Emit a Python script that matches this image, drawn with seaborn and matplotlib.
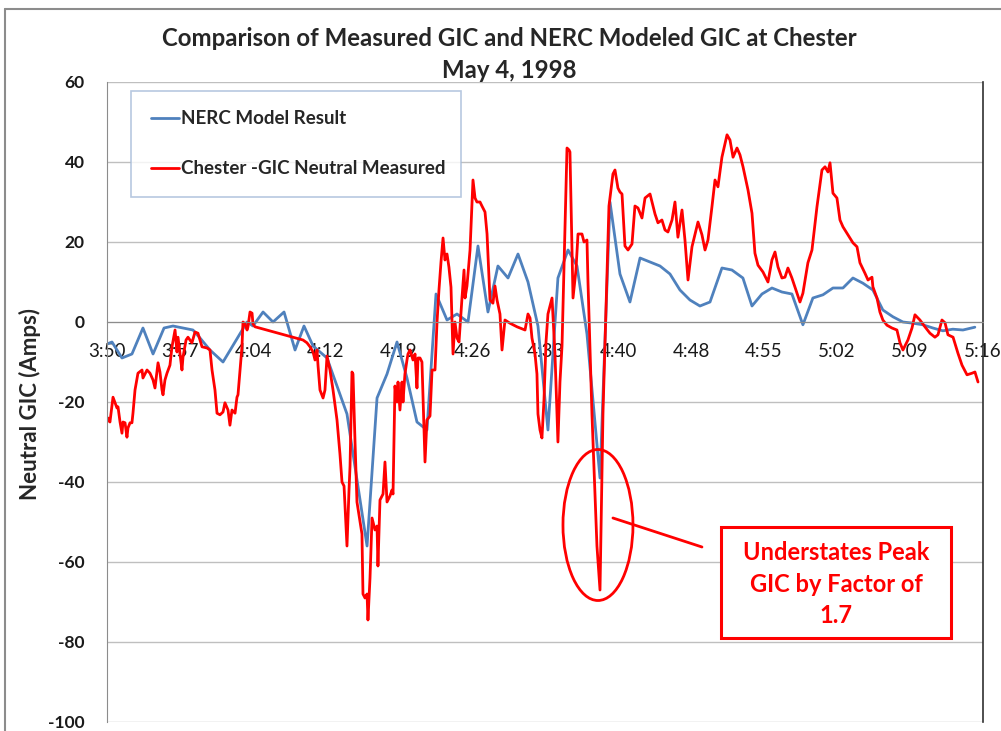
import numpy as np
import pandas as pd
import matplotlib
matplotlib.use("Agg")
import matplotlib.pyplot as plt
import seaborn as sns
from matplotlib.patches import Ellipse, Rectangle
from matplotlib.lines import Line2D

sns.set_style("white")
plt.rcParams["font.family"] = ["Lato", "DejaVu Sans"]

# ---------------- data ----------------
tick_labels = ["3:50", "3:57", "4:04", "4:12", "4:19", "4:26", "4:33",
               "4:40", "4:48", "4:55", "5:02", "5:09", "5:16"]
axis_span_min = 86  # minutes from 3:50 to 5:16

# NERC model result (minutes after 3:50, amps)
nerc_min = [0.00, 0.49, 1.47, 2.45, 3.53, 4.52, 5.60, 6.48, 7.46, 8.44, 9.13, 10.11,
            11.39, 12.57, 13.75, 14.33, 15.32, 16.30, 17.38, 18.46, 19.34, 20.23,
            21.60, 23.56, 25.53, 26.51, 27.49, 28.47, 29.45, 30.43, 31.41, 32.30,
            33.38, 34.36, 35.44, 36.42, 37.40, 38.38, 39.37, 40.35, 41.33, 42.31,
            43.29, 44.27, 45.26, 46.14, 47.12, 48.40, 49.38, 50.36, 51.34, 52.33,
            53.31, 54.29, 55.27, 56.25, 57.23, 58.21, 59.20, 60.37, 61.35, 62.43,
            63.32, 64.30, 65.28, 66.26, 67.24, 68.32, 69.30, 70.29, 71.27, 72.25,
            73.23, 74.21, 75.19, 76.17, 77.16, 78.14, 79.12, 80.10, 81.08, 82.06,
            83.04, 84.03, 85.20]
nerc_amps = [-5.5, -5, -9, -8, -1.5, -8, -1.5, -1, -1.5, -2, -4, -7,
             -10, -5, 0, -1, 2.5, 0, 2.5, -7, -1, -6,
             -9, -23, -56, -19, -13, -5, -14, -25, -27, 7,
             0.5, 2, 0, 19, 2.5, 14, 11, 17, 10, -1,
             -27, 11, 18, 14, -3, -39, 30, 12, 5, 16,
             15, 14, 12, 8, 5.5, 4, 5, 13.5, 13, 11,
             4, 7, 8.5, 7.5, 7, -0.7, 6, 6.8, 8.5, 8.5,
             11, 9.7, 8, 3, 1.3, 0, -0.3, -0.7, -1.5, -2.2,
             -1.8, -2, -1.3]

# Chester measured neutral GIC (minutes after 3:50, amps)
meas_min = [0.00, 0.10, 0.29, 0.59, 0.79, 0.98, 1.08, 1.28, 1.47, 1.57, 1.77, 1.96,
            2.06, 2.26, 2.45, 2.55, 2.75, 3.04, 3.44, 3.53, 3.93, 4.22, 4.52, 4.71,
            5.01, 5.20, 5.40, 5.50, 5.69, 5.89, 6.18, 6.38, 6.68, 6.87, 6.97, 7.36,
            7.46, 7.76, 7.95, 8.34, 8.64, 8.93, 9.33, 9.82, 10.11, 10.31, 10.60, 10.80,
            11.09, 11.39, 11.58, 11.88, 12.07, 12.27, 12.57, 12.76, 12.86, 13.06, 13.25,
            13.35, 13.55, 13.75, 13.84, 14.04, 14.24, 14.33, 14.53, 19.24, 19.63, 19.93,
            20.23, 20.42, 20.62, 20.72, 20.91, 21.21, 21.40, 21.60, 21.89, 22.19, 22.58,
            22.87, 23.07, 23.27, 23.56, 23.76, 23.86, 24.05, 24.15, 24.35, 24.54, 24.84,
            25.03, 25.13, 25.33, 25.53, 25.62, 25.82, 26.02, 26.31, 26.51, 26.60, 26.80,
            27.10, 27.29, 27.49, 27.78, 27.98, 28.08, 28.27, 28.47, 28.57, 28.76, 28.96,
            29.06, 29.25, 29.45, 29.55, 29.75, 30.04, 30.24, 30.43, 30.53, 30.73, 30.92,
            31.22, 31.41, 31.71, 31.91, 32.20, 32.40, 32.59, 32.79, 32.99, 33.18, 33.38,
            33.57, 33.77, 33.97, 34.16, 34.36, 34.56, 34.85, 35.05, 35.15, 35.34, 35.64,
            35.93, 36.13, 36.32, 36.62, 36.81, 37.11, 37.31, 37.60, 37.89, 38.09, 38.29,
            38.58, 38.78, 39.07, 39.56, 40.25, 41.04, 41.33, 41.53, 41.72, 42.02, 42.21,
            42.31, 42.51, 42.70, 42.90, 43.10, 43.29, 43.69, 43.98, 44.27, 44.47, 44.67,
            44.96, 45.16, 45.36, 45.45, 45.75, 46.04, 46.24, 46.63, 46.83, 47.12, 47.22,
            47.61, 48.10, 48.40, 48.69, 49.08, 49.28, 49.67, 49.87, 50.16, 50.36, 50.56,
            50.85, 51.15, 51.54, 51.83, 52.13, 52.52, 52.82, 53.31, 53.80, 54.09, 54.48,
            54.78, 55.07, 55.47, 55.76, 56.05, 56.45, 56.74, 57.04, 57.43, 57.72, 58.02,
            58.41, 58.71, 59.00, 59.39, 59.69, 59.98, 60.37, 60.87, 61.16, 61.46, 61.85,
            62.14, 62.44, 62.93, 63.32, 63.61, 63.91, 64.40, 64.89, 65.28, 65.58, 65.87,
            66.26, 66.56, 66.85, 67.24, 67.74, 68.03, 68.32, 68.81, 69.21, 69.70, 70.19,
            70.49, 70.78, 70.98, 71.27, 71.66, 71.96, 72.25, 72.74, 73.23, 73.63, 73.92,
            74.41, 74.71, 75.10, 75.19, 75.59, 75.88, 76.17, 76.57, 77.06, 77.55, 77.85,
            78.14, 78.63, 79.03, 79.32, 79.81, 80.30, 80.79, 81.28, 81.58, 81.97, 82.27,
            82.56, 83.06, 83.54, 83.94, 84.43, 84.92, 85.21, 85.51]
meas_amps = [-25, -24, -25, -18.8, -20.2, -21.5, -21.2, -25, -27.8, -25, -25.2, -28.8,
             -26.5, -25.2, -25.2, -22.8, -17, -12.8, -12, -14, -12, -12.8, -14.5, -16.5,
             -10.2, -12.5, -17, -18.2, -14.5, -12.8, -10.8, -6.2, -2, -7.5, -3.8, -12,
             -8.8, -4.5, -3.8, -5.2, -2.5, -2.8, -6.2, -6.5, -7, -12, -17, -22.8,
             -23.2, -22.5, -20.2, -22, -25.8, -22, -22.8, -18.8, -18.2, -12, -6.2,
             0, -0.5, -2, -1.2, 2.5, 2.2, -0.5, -1.2, -4.5, -5.2, -6.2,
             -7.5, -9.5, -7, -11, -17, -19, -17, -8.5, -12, -17, -24.5,
             -33, -40, -41, -56, -42, -36, -12.5, -13, -30, -45, -50,
             -53, -68, -69, -68, -74.5, -64, -49, -52, -51, -61, -44.5,
             -43, -35, -45, -43.5, -42, -43, -16, -20, -15, -22, -15,
             -20, -13, -9.5, -8, -7, -9.5, -8, -16.5, -9, -9, -10,
             -35, -24.5, -23.5, -12, -12, 0, 8, 15, 21, 15.5, 17,
             13.7, 8.7, -8, 0, -4, -5, 6, 13, 6, 9, 18,
             35.5, 31, 30, 30, 29, 27.5, 22, 5.5, 4.7, 9, 5.5,
             2, -7, 0.5, -0.3, -1.2, -2, 2, 1, -4, -8, -13,
             -23, -27, -29, -19.5, -5, 2, 6, -8, -30, -15, -6,
             23, 43.5, 43, 42.5, 6, 13, 22, 22, 20, 20.5, 10,
             -23, -56, -67, -23, 12, 29, 37, 38, 33.5, 32.5, 32,
             19, 18, 19.5, 29, 28.5, 26, 31, 32, 27, 24.8, 25.5,
             23, 22.5, 25.5, 30, 21.2, 28, 20.5, 10.5, 18.8, 21.8, 25,
             21.8, 18, 20.5, 28.8, 35.5, 33.8, 41.2, 46.8, 45.5, 41.2, 43.5,
             41.8, 38.8, 33, 27.2, 17.2, 14.2, 12.5, 10, 15.5, 17.5, 13.8,
             11, 11.2, 13.5, 11, 7.2, 5, 7.2, 14.8, 18, 28.8, 38,
             38.8, 37.5, 39.8, 32.2, 31, 25.5, 23.8, 21.8, 19.8, 18.8, 14.8,
             12.2, 10.5, 11.2, 8.8, 6, 2.5, 0.5, -0.8, -1.5, -2, -5.2,
             -7, -4.5, -1.5, 1.8, 0.5, -1.2, -2.8, -3.8, -3.2, 0.5, -0.2,
             -3.2, -3.8, -7.8, -10.8, -13.2, -12.8, -12.5, -15]

yticks = [-100, -80, -60, -40, -20, 0, 20, 40, 60]

# ---------------- figure ----------------
W, H = 1001, 731
fig = plt.figure(figsize=(W / 100, H / 100), dpi=100)
ax = fig.add_axes([107 / W, 1 - 722 / H, 876 / W, 640 / H])

nerc_df = pd.DataFrame({"t": nerc_min, "amps": nerc_amps})
meas_df = pd.DataFrame({"t": meas_min, "amps": meas_amps})

blue = "#4F81BD"
red = "#FF0000"
sns.lineplot(data=nerc_df, x="t", y="amps", ax=ax, color=blue, lw=2.0,
             sort=False, label="NERC Model Result")
sns.lineplot(data=meas_df, x="t", y="amps", ax=ax, color=red, lw=2.0,
             sort=False, label="Chester -GIC Neutral Measured")

ax.set_xlim(0, axis_span_min)
ax.set_ylim(-100, 60)
ax.set_yticks(yticks)
ax.set_yticklabels([str(v) for v in yticks])
ax.set_xticks(np.linspace(0, axis_span_min, len(tick_labels)))
ax.set_xticklabels(tick_labels)
ax.set_xlabel("")
ax.set_ylabel("")

ax.yaxis.grid(True, color="#BFBFBF", lw=1.0)
ax.xaxis.grid(False)
ax.set_axisbelow(True)

ax.spines["top"].set_visible(False)
ax.spines["left"].set_visible(True)
ax.spines["right"].set_visible(True)
ax.spines["bottom"].set_visible(True)
ax.spines["left"].set_color("#8C8C8C")
ax.spines["bottom"].set_color("#8C8C8C")
ax.spines["bottom"].set_position(("data", 0))
ax.spines["right"].set_color("#303030")
ax.spines["right"].set_linewidth(1.2)

ax.tick_params(axis="x", direction="out", length=5, color="#8C8C8C", pad=10,
               labelcolor="#1A1A1A", labelsize=13.5)
ax.tick_params(axis="y", direction="out", length=6, color="#8C8C8C", pad=10,
               labelcolor="#1A1A1A", labelsize=12.5)
for lab in ax.get_yticklabels():
    lab.set_fontweight("bold")

# legend
leg = ax.legend(loc="upper left",
                bbox_to_anchor=((131 - 107) / 876, (722 - 97) / 640, 330 / 876, 0.01),
                mode="expand", frameon=True, fancybox=False, shadow=False,
                prop={"weight": "bold", "size": 13.5}, handlelength=1.5,
                handletextpad=0.1, labelspacing=1.75, borderpad=1.05,
                borderaxespad=0)
leg.get_frame().set_edgecolor("#A6BBD8")
leg.get_frame().set_linewidth(1.2)

# titles
fig.text(509 / W, 1 - 38 / H, "Comparison of Measured GIC and NERC Modeled GIC at Chester",
         ha="center", va="center", fontsize=17.3, fontweight="bold")
fig.text(509 / W, 1 - 70 / H, "May 4, 1998", ha="center", va="center",
         fontsize=17.3, fontweight="bold")
fig.text(30 / W, 1 - 404 / H, "Neutral GIC (Amps)", rotation=90, ha="center",
         va="center", fontsize=16, fontweight="bold")

# annotation
ax.add_patch(Ellipse((48.2, -50.75), 6.87, 37.75, fill=False, ec=red, lw=2.0,
                     zorder=5))
ax.plot([49.67, 58.41], [-49, -56.25], color=red, lw=2.0, zorder=5)
ax.add_patch(Rectangle((60.28, -79.0), 22.58, 27.75, fill=True, fc="white",
                       ec=red, lw=2.2, zorder=5))
ax.text(71.57, -65.6, "Understates Peak\nGIC by Factor of\n1.7", ha="center",
        va="center", color=red, fontsize=17, fontweight="bold",
        linespacing=1.45, zorder=6)

# outer chart border
fig.add_artist(Line2D([5 / W, 1], [1 - 9 / H, 1 - 9 / H], transform=fig.transFigure,
                      color="#8C8C8C", lw=1.5))
fig.add_artist(Line2D([5 / W, 5 / W], [0, 1 - 9 / H], transform=fig.transFigure,
                      color="#8C8C8C", lw=1.5))

fig.savefig("out.png", dpi=100)
